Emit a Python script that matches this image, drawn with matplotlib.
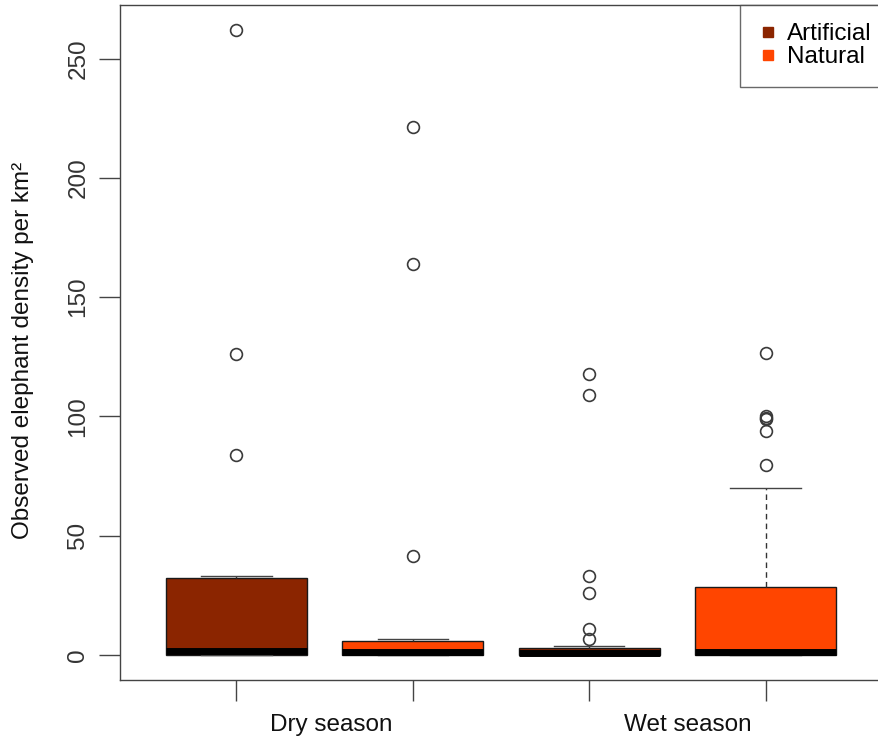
import matplotlib
matplotlib.use("Agg")
import matplotlib.pyplot as plt
from matplotlib.lines import Line2D

plt.rcParams['font.family'] = ['Liberation Sans', 'DejaVu Sans']

# Summary statistics of elephant density per km² by season and water source
groups = ["Dry / Artificial", "Dry / Natural", "Wet / Artificial", "Wet / Natural"]
medians = [1.5, 1.4, 0.8, 1.4]
q1 = [0.0, 0.0, 0.0, 0.0]
q3 = [32.3, 6.0, 3.0, 28.7]
whisker_low = [0.0, 0.0, 0.0, 0.0]
whisker_high = [33.0, 6.7, 3.8, 70.0]
outliers = [
    [262.0, 126.0, 84.0],
    [221.5, 164.0, 41.5],
    [118.0, 109.0, 33.0, 26.0, 11.0, 6.5],
    [126.5, 100.0, 99.5, 99.0, 94.0, 79.5],
]
source = ["Artificial", "Natural", "Artificial", "Natural"]
season_labels = ["Dry season", "Wet season"]
season_centers = [1.54, 3.56]
source_colors = {"Artificial": "#8B2500", "Natural": "#FF4500"}

FS = 17.5

fig = plt.figure(figsize=(8.79, 7.40), dpi=100)
ax = fig.add_axes([120 / 879, 1 - 680 / 740, (882 - 120) / 879, (680 - 5) / 740])

stats = []
for i in range(len(groups)):
    stats.append(dict(label=groups[i], med=medians[i], q1=q1[i], q3=q3[i],
                      whislo=whisker_low[i], whishi=whisker_high[i],
                      fliers=outliers[i]))

positions = [1, 2, 3, 4]
bp = ax.bxp(stats, positions=positions, widths=0.8, patch_artist=True,
            showfliers=True,
            boxprops=dict(edgecolor="#1a1a1a", linewidth=1.0),
            medianprops=dict(color="black", linewidth=5.0, solid_capstyle="butt"),
            whiskerprops=dict(color="#333333", linewidth=1.0, linestyle=(0, (4, 3))),
            capprops=dict(color="#444444", linewidth=1.0),
            capwidths=0.4,
            flierprops=dict(marker="o", markersize=8.5, markerfacecolor="none",
                            markeredgecolor="#3a3a3a", markeredgewidth=1.2,
                            linestyle="none"))
for patch, src in zip(bp["boxes"], source):
    patch.set_facecolor(source_colors[src])

ax.set_xlim(0.34, 4.66)
ax.set_ylim(-10.5, 272.5)

ax.set_yticks([0, 50, 100, 150, 200, 250])
ax.set_yticklabels(["0", "50", "100", "150", "200", "250"], rotation=90,
                   va="center", color="#333333")
ax.set_xticks(positions)
ax.set_xticklabels([])
ax.tick_params(axis="both", direction="out", length=15, width=1.0,
               color="#444444", labelsize=FS, pad=7)

for x, lab in zip(season_centers, season_labels):
    ax.text(x, -0.066, lab, transform=ax.get_xaxis_transform(),
            ha="center", va="center", fontsize=FS, color="#111111")

fig.text(23 / 879, 1 - 350 / 740, "Observed elephant density per km²",
         rotation=90, ha="center", va="center", fontsize=FS, color="#111111")

for sp in ax.spines.values():
    sp.set_color("#444444")
    sp.set_linewidth(1.0)

handles = [Line2D([], [], marker="s", linestyle="none", markersize=7,
                  markerfacecolor=source_colors[s], markeredgecolor=source_colors[s])
           for s in ["Artificial", "Natural"]]
leg = ax.legend(handles, ["Artificial", "Natural"], loc="upper right",
                bbox_to_anchor=(1.0 + 8 / 762, 1.0),
                fontsize=FS, frameon=True, fancybox=False, borderaxespad=0,
                handlelength=0.8, handletextpad=0.4, labelspacing=0.05,
                borderpad=0.75)
leg.get_frame().set_edgecolor("#444444")
leg.get_frame().set_linewidth(1.0)

fig.savefig("out.png", dpi=100)
